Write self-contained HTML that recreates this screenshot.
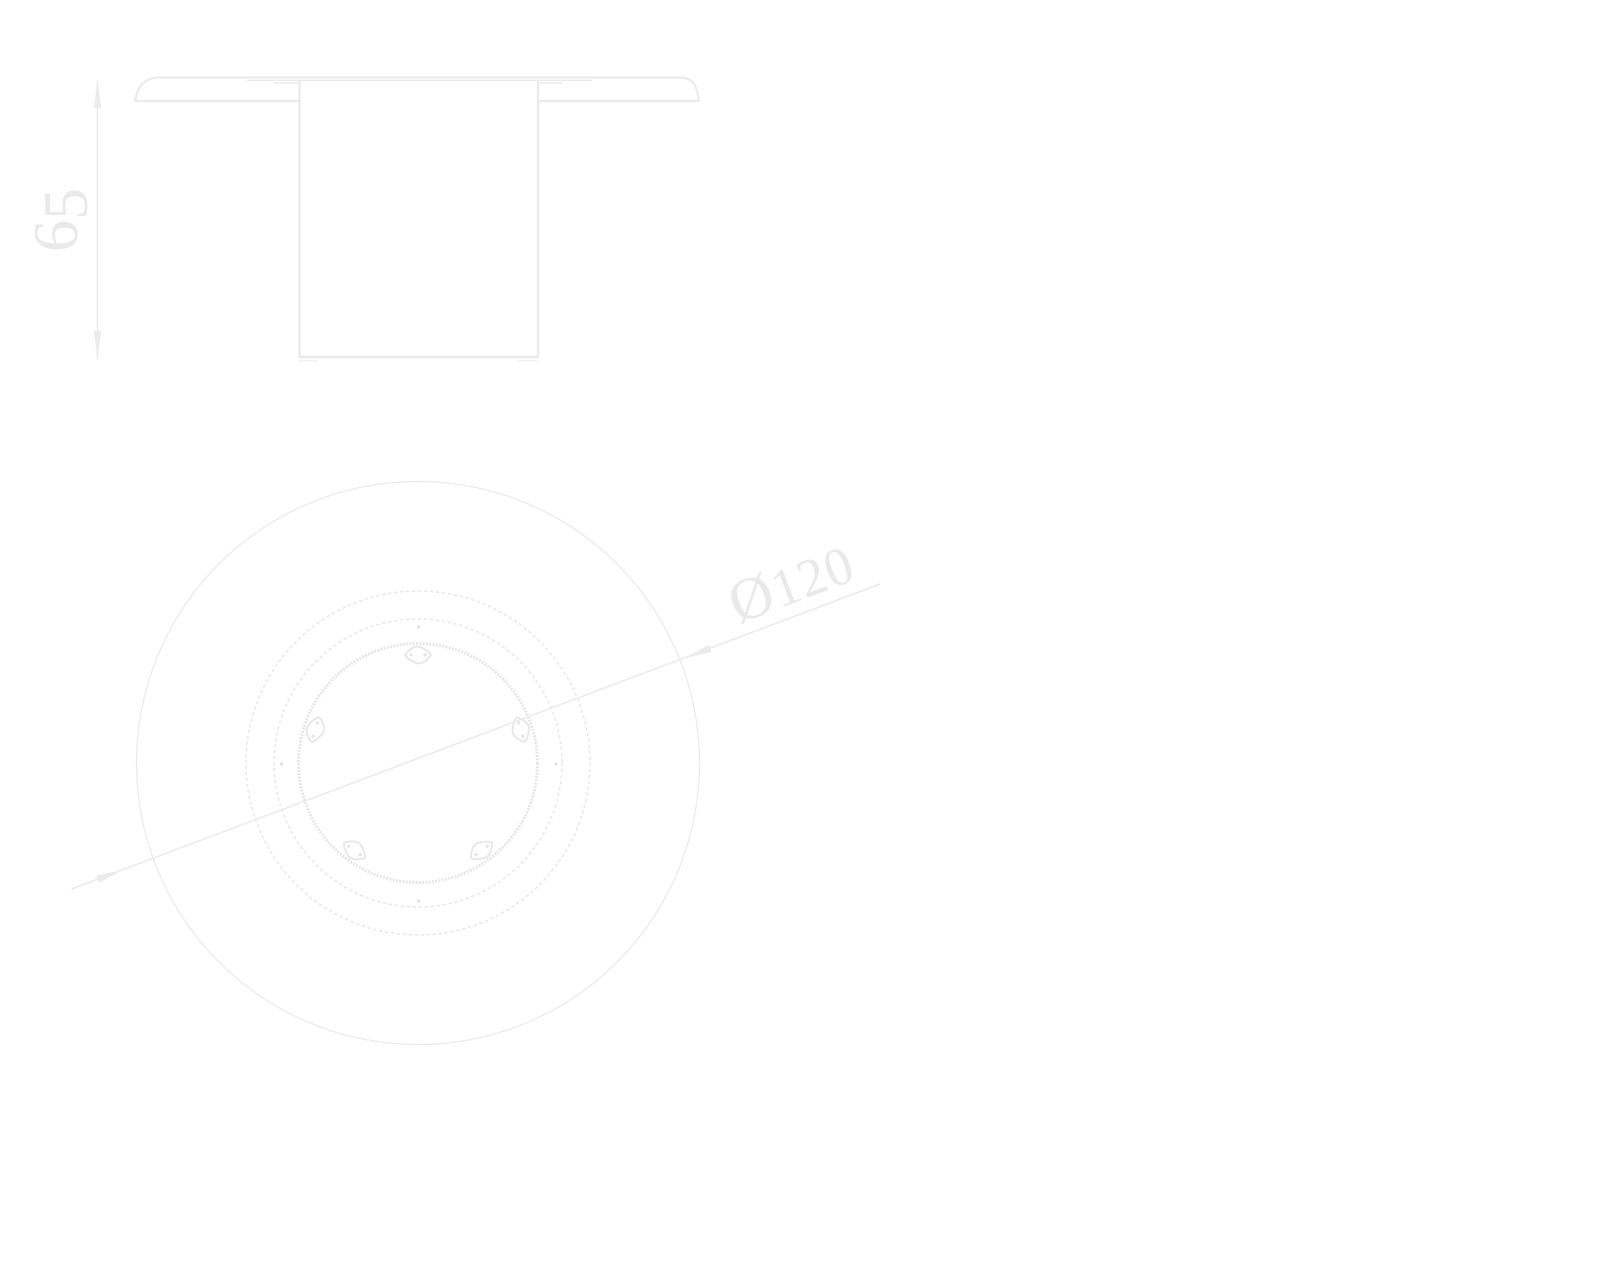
<!DOCTYPE html>
<html>
<head>
<meta charset="utf-8">
<style>
  html, body { margin:0; padding:0; background:#ffffff; }
  body { width:1600px; height:1280px; overflow:hidden; }
  svg { display:block; }
  text { font-family: "Liberation Serif", "DejaVu Serif", serif; fill:#e9e9e9; }
</style>
</head>
<body>
<svg width="1600" height="1280" viewBox="0 0 1600 1280" xmlns="http://www.w3.org/2000/svg">
  <rect x="0" y="0" width="1600" height="1280" fill="#ffffff"/>

  <!-- ================= SIDE VIEW ================= -->
  <g fill="none" stroke="#ebebeb" stroke-linecap="butt">
    <path d="M135,101 C137,91 140,80 156,77.5 L682,77.5 C696,79 697,90 699,101" stroke-width="2.2"/>
    <line x1="134" y1="101" x2="300" y2="101" stroke-width="2.2"/>
    <line x1="538" y1="101" x2="700" y2="101" stroke-width="2.2"/>
    <line x1="247" y1="80.3" x2="592" y2="80.3" stroke-width="1.4"/>
    <line x1="273" y1="83" x2="300" y2="83" stroke-width="1.4"/>
    <line x1="538" y1="83" x2="563" y2="83" stroke-width="1.4"/>
    <line x1="299.5" y1="81" x2="299.5" y2="358" stroke-width="2.4"/>
    <line x1="538" y1="81" x2="538" y2="358" stroke-width="2.4"/>
    <line x1="298.5" y1="357" x2="539" y2="357" stroke-width="2.6"/>
    <line x1="298" y1="360.8" x2="318" y2="360.8" stroke-width="1.2"/>
    <line x1="518" y1="360.8" x2="537" y2="360.8" stroke-width="1.2"/>
    <line x1="97.5" y1="80" x2="97.5" y2="359" stroke-width="1.6"/>
  </g>
  <g fill="#ebebeb" stroke="none">
    <polygon points="97.5,80 101.2,108 93.8,108"/>
    <polygon points="97.5,359 101.2,331 93.8,331"/>
  </g>
  <text transform="translate(77,252) rotate(-90)" font-size="64">6<tspan dy="10">5</tspan></text>

  <!-- ================= PLAN VIEW ================= -->
  <g fill="none">
    <circle cx="418" cy="763" r="281.5" stroke="#ebebeb" stroke-width="1.3"/>
    <circle cx="418" cy="763" r="172" stroke="#e8e8e8" stroke-width="1.5" stroke-dasharray="3.5 2.5"/>
    <circle cx="418" cy="763" r="144" stroke="#e8e8e8" stroke-width="1.5" stroke-dasharray="3.5 2.5"/>
    <circle cx="418" cy="763" r="119.5" stroke="#e6e6e6" stroke-width="3" stroke-dasharray="2 1.3"/>
  </g>

  <g fill="#e4e4e4">
    <circle cx="418.5" cy="627" r="1.7"/>
    <circle cx="418.5" cy="901" r="1.7"/>
    <circle cx="281.5" cy="764" r="1.7"/>
    <circle cx="556" cy="764" r="1.7"/>
  </g>

  <defs>
    <g id="hole">
      <path d="M-13,0 Q-4,-12 4,-7 Q11,-4 13,0 Q4,12 -4,7 Q-11,4 -13,0 Z" fill="none" stroke="#e6e6e6" stroke-width="1.8"/>
      <circle cx="-7" cy="0" r="1.7" fill="#e6e6e6"/>
      <circle cx="7" cy="0" r="1.7" fill="#e6e6e6"/>
    </g>
  </defs>
  <use href="#hole" transform="translate(418,655) rotate(0)"/>
  <use href="#hole" transform="translate(315.3,729.6) rotate(-72)"/>
  <use href="#hole" transform="translate(354.5,850.4) rotate(-144)"/>
  <use href="#hole" transform="translate(481.5,850.4) rotate(-216)"/>
  <use href="#hole" transform="translate(520.7,729.6) rotate(-288)"/>

  <line x1="71.7" y1="889" x2="880" y2="584" stroke="#ebebeb" stroke-width="1.5"/>
  <g fill="#ebebeb">
    <polygon points="123,869.7 99.1,882.9 96.3,875.5"/>
    <polygon points="685,658 711.7,652.2 708.9,644.8"/>
  </g>
  <text transform="translate(738,624) rotate(-20.67)" font-size="60">Ø<tspan font-size="54" letter-spacing="1" dx="1">120</tspan></text>
</svg>
</body>
</html>
